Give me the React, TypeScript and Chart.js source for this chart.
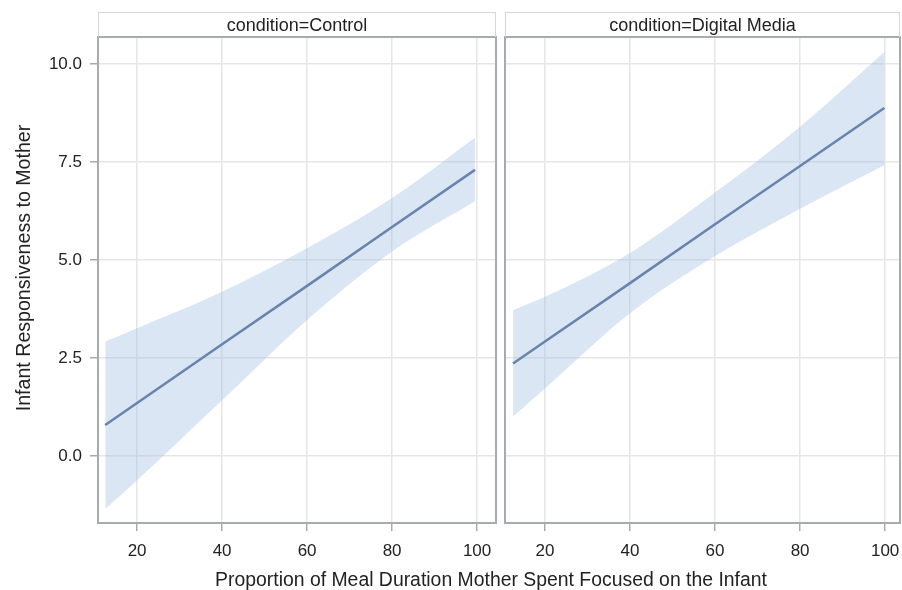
import React, { useEffect, useRef } from "react";
import { Chart, registerables } from "chart.js";

Chart.register(...registerables);

const X_TICKS = [20, 40, 60, 80, 100];
const Y_TICKS = [0, 2.5, 5, 7.5, 10];
const LEFT_X_RANGE = [10.8, 104.45];
const RIGHT_X_RANGE = [10.6, 103.5];
const Y_MIN = -1.71;
const Y_MAX = 10.69;

const PANELS = ["condition=Control", "condition=Digital Media"];

// Control
const controlX = [12.5, 20, 40, 60, 80, 99.5];
const controlFit = [0.79, 1.35, 2.85, 4.34, 5.84, 7.3];
const controlUpper = [2.92, 3.26, 4.19, 5.3, 6.58, 8.12];
const controlLower = [-1.35, -0.62, 1.42, 3.47, 5.22, 6.5];

// Digital Media
const digitalX = [12.5, 20, 40, 60, 80, 99.8];
const digitalFit = [2.36, 2.92, 4.41, 5.91, 7.4, 8.88];
const digitalUpper = [3.72, 4.06, 5.18, 6.72, 8.4, 10.31];
const digitalLower = [1.01, 1.72, 3.64, 5.1, 6.31, 7.42];

const X_TITLE = "Proportion of Meal Duration Mother Spent Focused on the Infant";
const Y_TITLE = "Infant Responsiveness to Mother";

const FONT = '"Liberation Sans", Arial, Helvetica, sans-serif';
const LINE_COLOR = "#465f8c";
const BAND_COLOR = "rgba(160,190,225,0.38)";
const GRID_COLOR = "#e6e6e6";
const FRAME_COLOR = "#a7abb0";
const TEXT_COLOR = "#222222";

const framePlugin = {
  id: "frame",
  afterDraw(chart: any) {
    const { ctx, chartArea } = chart;
    ctx.save();
    ctx.strokeStyle = FRAME_COLOR;
    ctx.lineWidth = 2;
    ctx.strokeRect(chartArea.left, chartArea.top, chartArea.right - chartArea.left, chartArea.bottom - chartArea.top);
    ctx.restore();
  },
};

function pts(xs: number[], ys: number[]) {
  return xs.map((x, i) => ({ x, y: ys[i] }));
}

function makeConfig(
  xs: number[],
  fit: number[],
  upper: number[],
  lower: number[],
  xRange: number[],
  showY: boolean
) {
  return {
    type: "line" as const,
    data: {
      datasets: [
        {
          data: pts(xs, upper),
          borderWidth: 0,
          borderColor: "rgba(0,0,0,0)",
          pointRadius: 0,
          fill: false,
          cubicInterpolationMode: "monotone",
        },
        {
          data: pts(xs, lower),
          borderWidth: 0,
          borderColor: "rgba(0,0,0,0)",
          backgroundColor: BAND_COLOR,
          pointRadius: 0,
          fill: "-1",
          cubicInterpolationMode: "monotone",
        },
        {
          data: pts(xs, fit),
          borderWidth: 2.5,
          borderColor: LINE_COLOR,
          pointRadius: 0,
          fill: false,
        },
      ],
    },
    options: {
      animation: false,
      responsive: false,
      events: [],
      layout: {
        padding: showY ? { top: 37, right: 4, left: 0, bottom: 0 } : { top: 37, right: 2, left: 0, bottom: 0 },
      },
      plugins: {
        legend: { display: false },
        tooltip: { enabled: false },
        title: { display: false },
      },
      scales: {
        x: {
          type: "linear",
          min: xRange[0],
          max: xRange[1],
          afterBuildTicks: (axis: any) => {
            axis.ticks = X_TICKS.map((v) => ({ value: v }));
          },
          afterFit: (axis: any) => {
            axis.height = 67;
            axis.paddingLeft = 0;
            axis.paddingRight = 0;
          },
          border: { display: false },
          grid: {
            color: GRID_COLOR,
            lineWidth: 1.5,
            tickColor: FRAME_COLOR,
            tickLength: 8,
            drawTicks: true,
          },
          ticks: {
            padding: 10,
            maxRotation: 0,
            autoSkip: false,
            color: TEXT_COLOR,
            font: { family: FONT, size: 17 },
            callback: (v: any) => String(v),
          },
        },
        y: {
          type: "linear",
          min: Y_MIN,
          max: Y_MAX,
          afterBuildTicks: (axis: any) => {
            axis.ticks = Y_TICKS.map((v) => ({ value: v }));
          },
          afterFit: (axis: any) => {
            axis.width = showY ? 98 : 5;
            axis.paddingTop = 0;
            axis.paddingBottom = 0;
          },
          border: { display: false },
          grid: {
            color: GRID_COLOR,
            lineWidth: 1.5,
            tickColor: FRAME_COLOR,
            tickLength: 8,
            drawTicks: showY,
          },
          ticks: {
            display: showY,
            padding: 8,
            autoSkip: false,
            color: TEXT_COLOR,
            font: { family: FONT, size: 17 },
            callback: (v: any) => Number(v).toFixed(1),
          },
        },
      },
    },
    plugins: [framePlugin],
  };
}

function Panel(props: { left: number; width: number; cfg: any }) {
  const ref = useRef<HTMLCanvasElement>(null);
  useEffect(() => {
    if (!ref.current) return;
    const chart = new Chart(ref.current, props.cfg);
    return () => chart.destroy();
  }, []);
  return (
    <canvas
      ref={ref}
      width={props.width}
      height={590}
      style={{ position: "absolute", left: props.left, top: 0, width: props.width, height: 590 }}
    />
  );
}

const stripStyle = (left: number, width: number): React.CSSProperties => ({
  position: "absolute",
  left,
  top: 12,
  width,
  height: 25,
  boxSizing: "border-box",
  border: "1.5px solid #d6d6d6",
  borderBottom: "none",
  textAlign: "center",
  lineHeight: "25px",
  fontSize: 18,
  color: TEXT_COLOR,
  fontFamily: FONT,
  whiteSpace: "nowrap",
});

export default function App() {
  const leftCfg = makeConfig(controlX, controlFit, controlUpper, controlLower, LEFT_X_RANGE, true);
  const rightCfg = makeConfig(digitalX, digitalFit, digitalUpper, digitalLower, RIGHT_X_RANGE, false);
  return (
    <div
      style={{
        position: "absolute",
        left: 0,
        top: 0,
        width: 902,
        height: 590,
        background: "#fff",
        overflow: "hidden",
        fontFamily: FONT,
      }}
    >
      <Panel left={0} width={500} cfg={leftCfg} />
      <Panel left={500} width={402} cfg={rightCfg} />
      <div style={stripStyle(98, 398)}>{PANELS[0]}</div>
      <div style={stripStyle(505, 395)}>{PANELS[1]}</div>
      <div
        style={{
          position: "absolute",
          left: 23 - 200,
          top: 268 - 12,
          width: 400,
          height: 24,
          lineHeight: "24px",
          textAlign: "center",
          transform: "rotate(-90deg)",
          transformOrigin: "50% 50%",
          fontSize: 19.6,
          color: TEXT_COLOR,
          whiteSpace: "nowrap",
        }}
      >
        {Y_TITLE}
      </div>
      <div
        style={{
          position: "absolute",
          left: 191,
          top: 567,
          width: 600,
          height: 24,
          lineHeight: "24px",
          textAlign: "center",
          fontSize: 19.4,
          color: TEXT_COLOR,
          whiteSpace: "nowrap",
        }}
      >
        {X_TITLE}
      </div>
    </div>
  );
}
